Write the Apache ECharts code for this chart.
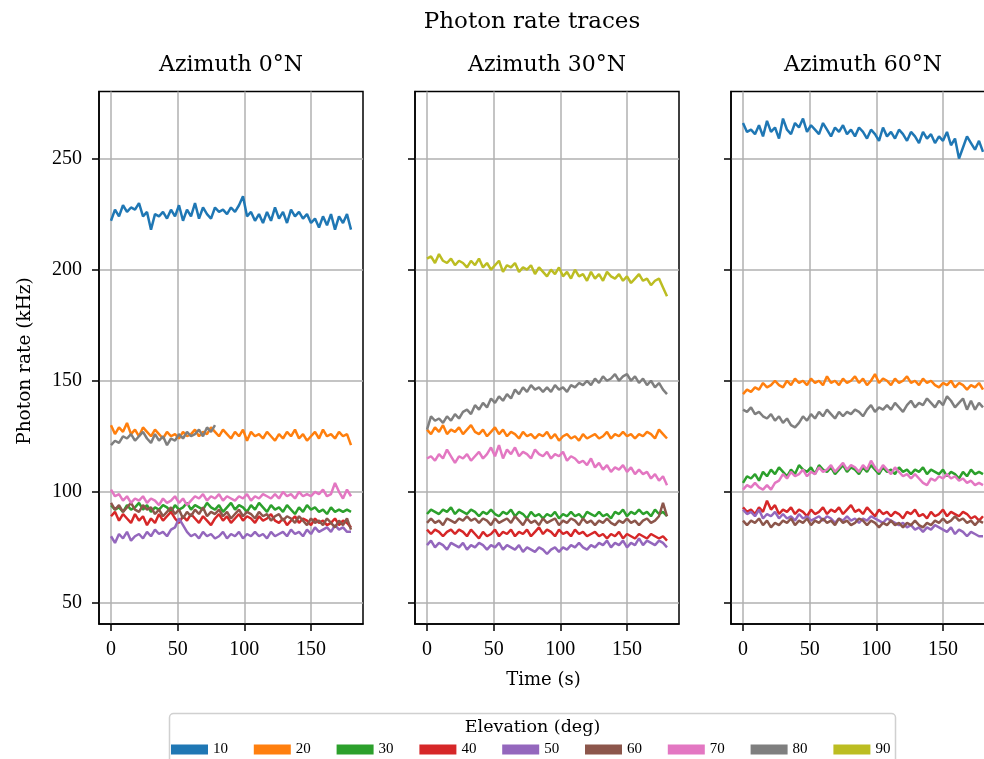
<!DOCTYPE html>
<html><head><meta charset="utf-8">
<script src="https://cdn.jsdelivr.net/npm/echarts@6/dist/echarts.min.js"></script>
<style>html,body{margin:0;padding:0;background:#fff}#c{width:984px;height:759px}</style>
</head><body><div id="c"></div>
<script>
// ---- sampling times (s)
const time = [0,3,6,9,12,15,18,21,24,27,30,33,36,39,42,45,48,51,54,57,60,63,66,69,72,75,78,81,84,87,90,93,96,99,102,105,108,111,114,117,120,123,126,129,132,135,138,141,144,147,150,153,156,159,162,165,168,171,174,177,180];

const elevations = ['10','20','30','40','50','60','70','80','90'];
const elevationColors = ['#1f77b4','#ff7f0e','#2ca02c','#d62728','#9467bd','#8c564b','#e377c2','#7f7f7f','#bcbd22'];
const panelTitles = ['Azimuth 0°N','Azimuth 30°N','Azimuth 60°N'];
const xTicks = [0,50,100,150];
const yTicks = [50,100,150,200,250];

// ---- Azimuth 0°N (kHz)
const az0_el10 = [222,227,224,229,226,228,227,230,224,226, 218,225,224,226,223,227,224,229,222,227, 224,230,223,228,225,223,228,226,227,225, 228,226,229,233,224,226,222,225,221,226, 222,228,223,226,221,227,224,226,223,225, 221,223,219,224,220,225,218,224,221,225, 218];
const az0_el20 = [130,126,129,127,131,126,128,125,129,127, 125,128,126,124,127,125,126,124,127,125, 126,128,125,127,126,129,127,125,128,126, 124,127,125,128,123,127,125,126,124,127, 125,123,126,124,127,125,128,124,126,123, 125,127,124,128,125,126,124,127,125,126, 121];
const az0_el30 = [94,92,93,91,94,92,93,95,92,94, 91,93,92,94,93,91,94,92,93,95, 92,94,93,92,95,93,92,94,91,93, 95,92,94,93,91,94,92,95,93,91, 94,92,93,91,94,92,90,93,91,94, 92,93,91,92,90,93,91,92,91,92, 91];
const az0_el40 = [89,91,87,90,88,86,90,87,89,85, 88,86,90,87,89,91,88,86,89,87, 90,88,86,89,87,85,88,90,87,89, 86,88,90,87,89,88,86,89,87,88, 90,87,86,88,85,87,89,86,88,87, 85,88,86,87,85,86,88,85,87,86, 84];
const az0_el50 = [80,77,81,79,82,78,80,81,79,82, 80,83,81,82,80,83,84,88,85,82, 80,81,79,82,80,81,79,80,82,79, 81,80,82,79,81,80,82,80,81,79, 82,80,81,82,80,83,81,82,80,83, 81,84,82,83,84,82,85,83,84,82, 82];
const az0_el60 = [95,92,94,91,93,95,92,91,94,92, 93,90,92,89,91,93,90,92,88,91, 89,92,90,93,89,91,90,92,89,91, 88,90,92,89,91,90,88,91,89,90, 87,89,90,87,89,88,86,89,87,85, 88,86,87,85,88,86,84,87,85,88, 83];
const az0_el70 = [101,98,99,96,98,95,97,96,98,95, 97,96,94,97,95,96,98,95,97,94, 96,98,97,99,96,98,97,99,96,98, 97,96,98,97,99,96,98,97,99,98, 97,99,97,100,98,99,97,100,98,99, 98,100,99,101,98,99,104,100,97,101, 98];
const az0_el80 = [121,123,122,125,124,126,123,125,127,124, 122,126,123,125,121,124,123,126,124,127, 125,126,128,125,129,127,130];

// ---- Azimuth 30°N (kHz)
const az30_el20 = [128,126,129,127,130,126,128,127,129,126, 128,130,127,126,128,125,127,129,126,128, 125,127,126,124,127,125,126,124,126,125, 127,124,126,123,125,126,124,125,123,126, 124,125,126,124,125,127,124,126,125,127, 125,126,124,126,125,127,126,124,128,126, 124];
const az30_el30 = [90,92,91,90,92,91,93,90,92,91, 90,92,91,89,91,90,92,90,89,91, 90,92,89,91,90,88,91,89,90,88, 90,89,91,88,90,89,91,89,90,88, 91,90,89,91,89,90,88,91,90,92, 89,91,90,92,90,91,89,92,90,91, 89];
const az30_el40 = [83,81,83,82,80,82,83,81,83,82, 80,83,81,79,82,80,81,83,80,82, 81,83,80,82,81,83,80,82,84,81, 83,82,80,83,81,82,80,83,81,82, 80,81,82,80,81,79,81,80,82,79, 81,80,79,81,80,79,81,80,79,80, 78];
const az30_el50 = [76,78,75,77,76,74,77,76,75,77, 74,76,75,77,76,74,76,75,77,74, 76,75,74,76,73,75,74,73,75,74, 72,74,75,73,75,74,76,75,77,75, 74,76,75,77,76,78,75,77,76,78, 75,77,76,79,76,78,77,76,78,77, 75];
const az30_el60 = [86,88,86,87,85,88,87,86,88,87, 89,87,88,86,88,87,85,88,86,87, 88,86,89,87,85,88,86,87,85,88, 86,87,88,85,87,86,88,87,85,88, 86,87,85,87,86,88,86,85,87,86, 88,86,87,85,87,88,86,87,89,95, 89];
const az30_el70 = [115,116,114,117,115,119,116,113,116,115, 117,114,116,118,115,117,120,116,121,115, 119,117,120,116,118,117,115,119,117,116, 118,115,117,116,118,114,116,115,113,114, 112,115,111,113,110,112,109,111,110,112, 109,111,108,110,108,109,106,108,105,107, 103];
const az30_el80 = [128,134,132,133,131,134,132,135,133,136, 137,135,139,137,140,138,142,140,143,141, 144,142,146,144,147,145,148,146,147,145, 147,145,148,146,147,145,148,147,149,148, 150,148,151,149,152,150,151,153,150,152, 153,150,152,149,151,148,150,147,149,146, 144];
const az30_el90 = [205,206,203,207,204,203,205,202,204,203, 201,204,202,205,201,203,200,202,204,199, 202,201,203,199,201,200,202,198,201,199, 197,200,198,201,197,199,196,200,197,198, 195,199,196,198,195,199,197,196,198,195, 197,194,196,198,195,196,193,195,196,192, 188];

// ---- Azimuth 60°N (kHz)
const az60_el10 = [266,262,263,261,265,260,267,262,264,259, 268,263,261,266,264,268,262,265,263,261, 266,263,260,264,262,265,261,263,260,264, 262,259,263,261,258,264,260,262,259,263, 261,258,262,260,257,262,259,261,257,260, 258,262,256,259,250,255,260,257,254,258, 253];
const az60_el20 = [144,146,145,147,146,149,147,148,150,148, 147,150,148,151,149,150,148,151,149,150, 148,152,149,150,148,151,149,150,152,149, 151,148,150,153,149,151,150,148,151,149, 150,152,149,150,148,151,149,150,148,147, 149,148,150,147,149,148,146,148,147,149, 146];
const az60_el30 = [104,107,106,108,105,109,107,110,108,111, 109,107,110,108,112,110,109,111,108,112, 110,109,111,108,110,112,109,111,110,108, 111,109,112,110,108,111,109,110,108,111, 109,110,108,110,109,111,108,110,109,108, 110,107,109,108,106,109,107,110,108,109, 108];
const az60_el40 = [93,91,92,90,93,91,96,92,94,90, 92,91,93,90,92,91,89,92,90,91, 93,90,92,91,93,90,92,94,91,92, 90,93,91,89,92,90,91,89,91,90, 88,91,90,92,89,90,88,91,89,90, 92,89,91,90,89,91,90,88,89,87, 89];
const az60_el50 = [92,90,91,89,92,88,90,89,91,88, 90,88,89,87,90,88,89,87,88,89, 87,89,88,86,88,87,89,87,88,86, 88,87,89,88,87,86,88,87,86,85, 86,84,85,83,84,82,84,83,85,84, 83,82,84,81,83,82,80,82,81,80, 80];
const az60_el60 = [87,85,87,86,88,85,87,84,86,85, 87,86,88,85,87,86,88,85,87,86, 88,86,87,85,88,86,87,85,86,88, 87,85,87,86,84,86,85,87,85,86, 84,86,85,87,85,84,86,85,87,86, 88,86,87,89,87,88,86,87,85,87, 86];
const az60_el70 = [101,103,102,104,102,101,103,101,104,105, 108,106,109,107,108,110,107,109,108,111, 109,110,112,109,111,113,110,112,111,109, 112,110,114,111,109,112,110,108,111,109, 107,108,106,108,106,104,103,106,105,107, 106,108,106,107,105,106,104,105,103,104, 103];
const az60_el80 = [137,136,138,135,136,134,133,135,132,134, 131,133,130,129,131,134,132,135,133,136, 134,137,135,133,136,134,136,135,137,136, 134,137,139,136,138,137,139,137,140,138, 136,139,141,138,140,139,142,140,138,141, 139,143,141,138,140,142,137,141,137,140, 138];

// ---- which traces belong to which panel
const panels = [
  {'10':az0_el10,'20':az0_el20,'30':az0_el30,'40':az0_el40,'50':az0_el50,'60':az0_el60,'70':az0_el70,'80':az0_el80},
  {'20':az30_el20,'30':az30_el30,'40':az30_el40,'50':az30_el50,'60':az30_el60,'70':az30_el70,'80':az30_el80,'90':az30_el90},
  {'10':az60_el10,'20':az60_el20,'30':az60_el30,'40':az60_el40,'50':az60_el50,'60':az60_el60,'70':az60_el70,'80':az60_el80}
];

const gridLefts = [99, 415, 731];
const PW = 264, PT = 91.5, PH = 532.5;
const serif = 'DejaVu Serif';
const numFont = 'Liberation Serif';

const grids = [], xAxes = [], yAxes = [], series = [];
panels.forEach((p, i) => {
  grids.push({left: gridLefts[i], top: PT, width: PW, height: PH, show: true,
    borderColor: '#000', borderWidth: 1.5, backgroundColor: 'transparent', containLabel: false,
    outerBoundsMode: 'none'});
  xAxes.push({type: 'value', gridIndex: i, min: -9, max: 189,
    axisLine: {show: true, onZero: false, lineStyle: {color: '#000', width: 1.5}},
    axisTick: {show: true, length: 7, inside: false, lineStyle: {color: '#000', width: 1.5}, customValues: xTicks},
    axisLabel: {show: true, customValues: xTicks, fontFamily: numFont, fontSize: 20, color: '#000', margin: 16, hideOverlap: false},
    splitLine: {show: true, lineStyle: {color: '#b0b0b0', width: 1.5}}});
  yAxes.push({type: 'value', gridIndex: i, min: 40.5, max: 280.2,
    axisLine: {show: true, onZero: false, lineStyle: {color: '#000', width: 1.5}},
    axisTick: {show: true, length: 7, inside: false, lineStyle: {color: '#000', width: 1.5}, customValues: yTicks},
    axisLabel: {show: i === 0, customValues: yTicks, fontFamily: numFont, fontSize: 20, color: '#000', margin: 17},
    splitLine: {show: true, lineStyle: {color: '#b0b0b0', width: 1.5}}});
  elevations.forEach((e, k) => {
    const vals = p[e];
    if (!vals) return;
    series.push({type: 'line', name: e, xAxisIndex: i, yAxisIndex: i,
      data: vals.map((v, j) => [time[j], v]),
      showSymbol: false, symbol: 'none', clip: true, animation: false,
      lineStyle: {width: 2.5, color: elevationColors[k]}, itemStyle: {color: elevationColors[k]},
      emphasis: {disabled: true}});
  });
});

const graphics = [
  {type: 'text', x: 532, y: 22, style: {text: 'Photon rate traces', fontFamily: serif, fontSize: 23, fill: '#000', align: 'center', verticalAlign: 'middle'}},
  {type: 'text', x: 543.5, y: 680, style: {text: 'Time (s)', fontFamily: serif, fontSize: 18, fill: '#000', align: 'center', verticalAlign: 'middle'}},
  {type: 'text', x: 25, y: 361, rotation: Math.PI / 2, style: {text: 'Photon rate (kHz)', fontFamily: serif, fontSize: 18.5, fill: '#000', align: 'center', verticalAlign: 'middle'}},
  {type: 'rect', shape: {x: 169.5, y: 713.5, width: 726, height: 60, r: 4}, style: {fill: 'none', stroke: '#d0d0d0', lineWidth: 1.5}},
  {type: 'text', x: 532.5, y: 727, style: {text: 'Elevation (deg)', fontFamily: serif, fontSize: 17.5, fill: '#000', align: 'center', verticalAlign: 'middle'}}
];
panelTitles.forEach((t, i) => {
  graphics.push({type: 'text', x: gridLefts[i] + PW / 2, y: 65, style: {text: t, fontFamily: serif, fontSize: 22, fill: '#000', align: 'center', verticalAlign: 'middle'}});
});

const chart = echarts.init(document.getElementById('c'), null, {renderer: 'canvas'});
chart.setOption({
  animation: false,
  backgroundColor: '#fff',
  grid: grids, xAxis: xAxes, yAxis: yAxes, series: series,
  legend: {data: elevations.map(e => ({name: e, icon: 'rect'})), left: 171, top: 742, padding: 0,
    itemWidth: 37, itemHeight: 10, itemGap: 25.8, selectedMode: false, z: 10,
    textStyle: {fontFamily: numFont, fontSize: 15, color: '#000', width: 17}},
  graphic: graphics
});
</script></body></html>
